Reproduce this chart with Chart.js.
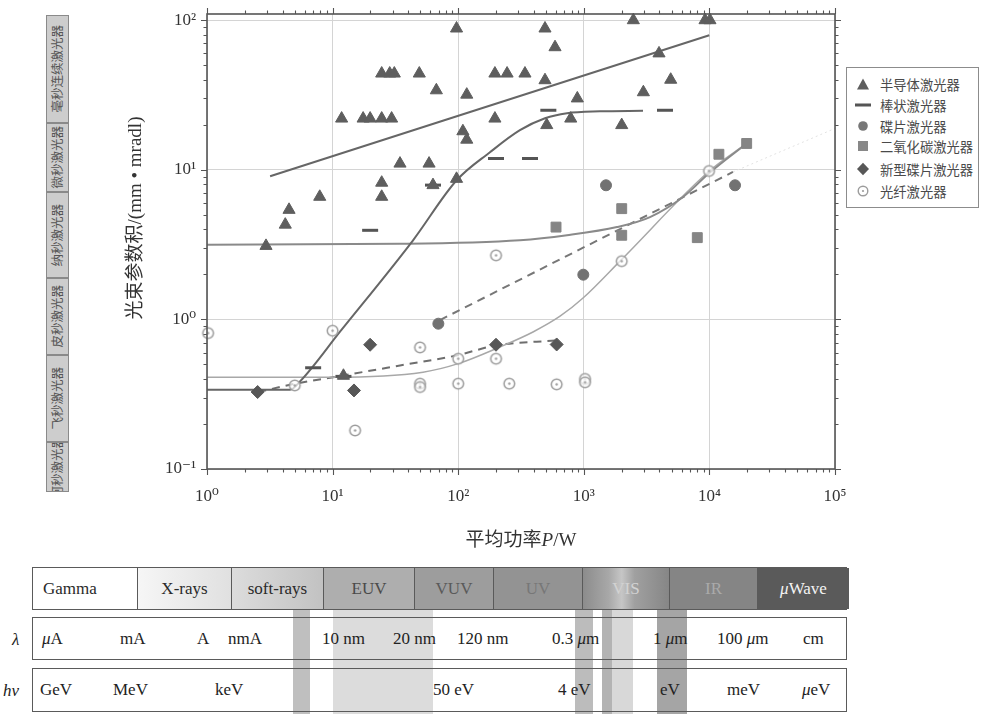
<!DOCTYPE html>
<html><head><meta charset="utf-8">
<script src="https://cdn.jsdelivr.net/npm/chart.js@4.4.1/dist/chart.umd.min.js"></script>
<style>
body{margin:0;background:#fff;width:984px;height:716px;overflow:hidden;position:relative;font-family:'Liberation Serif','Noto Sans CJK SC',serif;}
#wrap{position:absolute;left:0;top:0;width:984px;height:560px;}
.sbox{position:absolute;left:46px;width:21px;background:#cdcdcd;border:1px solid #8a8a8a;overflow:hidden;display:flex;align-items:center;justify-content:center;}
.sbox span{writing-mode:vertical-rl;text-orientation:sideways;transform:rotate(180deg);font-family:'Noto Sans CJK SC',sans-serif;font-size:12.5px;color:#555;white-space:nowrap;line-height:1;}
#legend{position:absolute;left:846px;top:67px;width:131px;height:139px;border:1px solid #8c8c8c;background:#fff;}
.li{position:absolute;left:8px;height:16px;display:flex;align-items:center;font-family:'Noto Sans CJK SC',sans-serif;font-size:13.3px;color:#4a4a4a;white-space:nowrap;}
.li svg{width:16px;height:14px;margin-right:9px;}
.row{position:absolute;left:32px;width:813px;border:1.5px solid #5a5a5a;}
.cell{position:absolute;top:0;height:100%;display:flex;align-items:center;justify-content:center;font-size:17px;border-left:1.5px solid #5a5a5a;box-sizing:border-box;}
.stripe{position:absolute;top:610px;height:104px;}
.t{position:absolute;font-size:17px;color:#222;line-height:1;white-space:nowrap;}
</style></head><body>
<div id="wrap"><canvas id="c" width="984" height="560"></canvas></div>
<div id="side"></div>
<div id="legend"></div>
<div id="band"></div>
<script>
// ---------------- data ----------------
const semiP = [2.95,4.2,4.5,7.9,11.8,17.5,19.9,24.6,29.5,24.6,28.5,31,49,67,97,117,109,117,34.4,58.6,24.6,24.6,97,63,196,196,245,340,491,590,491,888,2980,4920,3970,2480,9230,10100,507,787,2004,12.2];
const semiB = [3.1,4.3,5.4,6.6,22,22,22,22,22,44,44,44,44,34,88,31.8,18.1,15.9,11,11,8.2,6.6,8.7,7.9,22,44,44,44,88,66,39.7,30,33,40,60,100,100,100,19.9,22,19.9,0.42];
const rodP = [7.0,12.2,19.9,63,200,373,522,4430];
const rodB = [0.475,0.416,3.94,7.9,11.9,11.9,25,25];
const discP = [69.5,991,1503,16000];
const discB = [0.936,1.99,7.88,7.88];
const co2P = [601,2004,2004,8010,11900,19800];
const co2B = [4.14,5.5,3.65,3.52,12.7,15];
const newDiscP = [2.53,14.8,19.9,200,608];
const newDiscB = [0.327,0.335,0.677,0.677,0.68];
const fiberP = [1.02,5.0,10,15.1,49.7,49.7,49.7,100,100,200,200,255,608,1023,1023,2004,9930];
const fiberB = [0.81,0.362,0.84,0.181,0.65,0.372,0.353,0.546,0.372,0.546,2.68,0.372,0.368,0.40,0.38,2.45,9.82];

// trend curves
const semiFitP = [3.18,9980];
const semiFitB = [9.05,79.4];
const rodFitP = [1,4.58,5.5,11.5,43.7,97.2,179,310,491,735,1345,2960];
const rodFitB = [0.339,0.339,0.385,0.831,3.38,8.51,13.1,18.4,22.1,23.9,24.6,24.8];
const midFitP = [1,34.4,310,735,1838,3366,6166,9930,19800];
const midFitB = [3.16,3.2,3.38,3.65,4.14,4.83,6.58,9.48,15.0];
const fiberFitP = [1,10,52.5,100,215,394,647,986,2004,9930,19800];
const fiberFitB = [0.411,0.411,0.444,0.506,0.654,0.824,1.05,1.39,2.52,9.77,15.0];
const discFitP = [71.6,15400];
const discFitB = [0.99,9.67];
const discExtP = [15400,100000];
const discExtB = [9.67,18.9];
const newDiscFitP = [2.56,5.0,12.2,34.4,97,200,608];
const newDiscFitB = [0.327,0.371,0.422,0.492,0.574,0.67,0.724];

const xTickValues = [1,10,100,1000,10000,100000];
const xTickLabels = ['10\u2070','10\u00B9','10\u00B2','10\u00B3','10\u2074','10\u2075'];
const yTickValues = [0.1,1,10,100];
const yTickLabels = ['10\u207B\u00B9','10\u2070','10\u00B9','10\u00B2'];

const legendNames = ['半导体激光器','棒状激光器','碟片激光器','二氧化碳激光器','新型碟片激光器','光纤激光器'];
const xTitle = ['平均功率','P','/W'];
const yTitle = '光束参数积/(mm • mradl)';

const sideLabels = ['毫秒连续激光器','微秒激光器','纳秒激光器','皮秒激光器','飞秒激光器','阿秒激光器'];
const bandNames = ['Gamma','X-rays','soft-rays','EUV','VUV','UV','VIS','IR','<i>μ</i>Wave'];
const lambdaLabels = ['<i>μ</i>A','mA','A','nmA','10 nm','20 nm','120 nm','0.3 <i>μ</i>m','1 <i>μ</i>m','100 <i>μ</i>m','cm'];
const energyLabels = ['GeV','MeV','keV','50 eV','4 eV','eV','meV','<i>μ</i>eV'];

// ---------------- chart ----------------
const pts = (xs, ys) => xs.map((x, i) => ({x, y: ys[i]}));
const near = (a, b) => Math.abs(a - b) / b < 1e-6;
const isMajor = v => Math.abs(Math.log10(v) - Math.round(Math.log10(v))) < 1e-9;
function logTicks(lo, hi, max) {
  const t = [];
  for (let e = lo; e <= hi; e++) for (let m = 1; m <= 9; m++) {
    const v = m * Math.pow(10, e);
    if (v <= max * 1.0000001) t.push({value: v});
  }
  return t;
}
function fiberMarker() {
  const c = document.createElement('canvas'); c.width = c.height = 15;
  const g = c.getContext('2d');
  g.beginPath(); g.arc(7.5, 7.5, 5.3, 0, Math.PI * 2);
  g.fillStyle = 'rgba(255,255,255,0.7)'; g.fill();
  g.strokeStyle = '#9c9c9c'; g.lineWidth = 1.5; g.stroke();
  g.beginPath(); g.arc(7.5, 7.5, 1.2, 0, Math.PI * 2); g.fillStyle = '#9c9c9c'; g.fill();
  return c;
}
const fm = fiberMarker();

const line = (xs, ys, color, w, dash, order) => ({
  data: pts(xs, ys), showLine: true, pointRadius: 0, borderColor: color, borderWidth: w,
  borderDash: dash || [], cubicInterpolationMode: 'monotone', order: order || 10, fill: false
});
const scat = (xs, ys, style, r, bg, bc, bw) => ({
  data: pts(xs, ys), pointStyle: style, pointRadius: r, backgroundColor: bg, borderColor: bc,
  borderWidth: bw, showLine: false, order: 1, clip: false
});

const framePlugin = {
  id: 'frame',
  afterDraw(chart) {
    const {ctx, chartArea: a, scales: {x, y}} = chart;
    ctx.save();
    ctx.strokeStyle = '#555'; ctx.lineWidth = 1.6;
    ctx.strokeRect(a.left, a.top, a.right - a.left, a.bottom - a.top);
    ctx.lineWidth = 1.1; ctx.beginPath();
    x.ticks.forEach(t => {
      const p = Math.round(x.getPixelForValue(t.value)) + 0.5, L = isMajor(t.value) ? 6 : 3.5;
      ctx.moveTo(p, a.bottom); ctx.lineTo(p, a.bottom + L);
      ctx.moveTo(p, a.top); ctx.lineTo(p, a.top - L);
    });
    y.ticks.forEach(t => {
      const p = Math.round(y.getPixelForValue(t.value)) + 0.5, L = isMajor(t.value) ? 6 : 3.5;
      ctx.moveTo(a.left, p); ctx.lineTo(a.left - L, p);
      ctx.moveTo(a.right, p); ctx.lineTo(a.right + L, p);
    });
    ctx.stroke();
    // axis titles
    ctx.fillStyle = '#333'; ctx.textBaseline = 'middle';
    ctx.font = "19px 'Liberation Serif','Noto Sans CJK SC'";
    const w0 = ctx.measureText(xTitle[0]).width;
    ctx.font = "italic 19px 'Liberation Serif'";
    const w1 = ctx.measureText(xTitle[1]).width;
    ctx.font = "19px 'Liberation Serif'";
    const w2 = ctx.measureText(xTitle[2]).width;
    let sx = (a.left + a.right) / 2 - (w0 + w1 + w2) / 2, sy = 541;
    ctx.textAlign = 'left';
    ctx.font = "19px 'Liberation Serif','Noto Sans CJK SC'"; ctx.fillText(xTitle[0], sx, sy); sx += w0;
    ctx.font = "italic 19px 'Liberation Serif'"; ctx.fillText(xTitle[1], sx, sy); sx += w1;
    ctx.font = "19px 'Liberation Serif'"; ctx.fillText(xTitle[2], sx, sy);
    ctx.translate(136, 218); ctx.rotate(-Math.PI / 2);
    ctx.textAlign = 'center';
    ctx.font = "19px 'Liberation Serif','Noto Sans CJK SC'";
    ctx.fillText(yTitle, 0, 0);
    ctx.restore();
  }
};

const tickFont = {family: "'Liberation Serif','DejaVu Serif',serif", size: 17};
new Chart(document.getElementById('c'), {
  type: 'scatter',
  data: {datasets: [
    line(semiFitP, semiFitB, '#666', 2),
    line(rodFitP, rodFitB, '#666', 2),
    line(midFitP, midFitB, '#8a8a8a', 2),
    line(fiberFitP, fiberFitB, '#a8a8a8', 1.5),
    line(discFitP, discFitB, '#777', 2, [8, 6]),
    line(discExtP, discExtB, '#e2e2e2', 1, [2, 3]),
    line(newDiscFitP, newDiscFitB, '#6e6e6e', 2, [8, 6]),
    scat(semiP, semiB, 'triangle', 7, '#5e5e5e', '#5e5e5e', 1),
    scat(rodP, rodB, 'line', 8, '#555', '#555', 3),
    scat(discP, discB, 'circle', 5.5, '#727272', '#727272', 1),
    scat(co2P, co2B, 'rect', 7, '#858585', '#858585', 1),
    scat(newDiscP, newDiscB, 'rectRot', 6.5, '#575757', '#575757', 1),
    scat(fiberP, fiberB, fm, 6, '#9c9c9c', '#9c9c9c', 1)
  ]},
  options: {
    responsive: false, animation: false, devicePixelRatio: 1,
    layout: {padding: {left: 120, right: 149, top: 14, bottom: 5}},
    plugins: {legend: {display: false}, tooltip: {enabled: false}},
    scales: {
      x: {
        type: 'logarithmic', min: 1, max: 100000,
        afterBuildTicks: s => { s.ticks = logTicks(0, 5, 100000); },
        afterFit: s => { s.height = 86; s.paddingLeft = 0; s.paddingRight = 0; },
        grid: {color: c => (c.tick && isMajor(c.tick.value)) ? '#d4d4d4' : 'rgba(0,0,0,0)', drawTicks: false, lineWidth: 1},
        border: {display: false},
        ticks: {autoSkip: false, maxRotation: 0, padding: 17, color: '#333', font: tickFont,
          callback: v => { const i = xTickValues.findIndex(t => near(v, t)); return i >= 0 ? xTickLabels[i] : ''; }},
        title: {display: false}
      },
      y: {
        type: 'logarithmic', min: 0.1, max: 110,
        afterBuildTicks: s => { s.ticks = logTicks(-1, 2, 110); },
        afterFit: s => { s.width = 87; s.paddingTop = 0; s.paddingBottom = 0; },
        grid: {color: c => (c.tick && isMajor(c.tick.value)) ? '#d4d4d4' : 'rgba(0,0,0,0)', drawTicks: false, lineWidth: 1},
        border: {display: false},
        ticks: {autoSkip: false, padding: 11, color: '#333', font: tickFont,
          callback: v => { const i = yTickValues.findIndex(t => near(v, t)); return i >= 0 ? yTickLabels[i] : ''; }},
        title: {display: false}
      }
    }
  },
  plugins: [framePlugin]
});

// ---------------- side column ----------------
const sideEdges = [15,123,192,278,355,442,492];
const side = document.getElementById('side');
sideLabels.forEach((s, i) => {
  const d = document.createElement('div'); d.className = 'sbox';
  d.style.top = sideEdges[i] + 'px'; d.style.height = (sideEdges[i + 1] - sideEdges[i] - 2) + 'px';
  d.innerHTML = '<span>' + s + '</span>'; side.appendChild(d);
});

// ---------------- legend ----------------
const legendSvg = [
  '<polygon points="8,1.5 14,12.5 2,12.5" fill="#5e5e5e"/>',
  '<rect x="0" y="5.5" width="16" height="3" fill="#555"/>',
  '<circle cx="8" cy="7" r="4.8" fill="#777"/>',
  '<rect x="3" y="2" width="10" height="10" fill="#888"/>',
  '<polygon points="8,0.8 14,7 8,13.2 2,7" fill="#575757"/>',
  '<circle cx="8" cy="7" r="4.8" fill="none" stroke="#9c9c9c" stroke-width="1.4"/><circle cx="8" cy="7" r="1.1" fill="#9c9c9c"/>'
];
const legendRows = [8, 29, 50, 70, 93, 115];
const lg = document.getElementById('legend');
legendNames.forEach((n, i) => {
  const d = document.createElement('div'); d.className = 'li'; d.style.top = legendRows[i] + 'px';
  d.innerHTML = '<svg viewBox="0 0 16 14">' + legendSvg[i] + '</svg><span>' + n + '</span>';
  lg.appendChild(d);
});

// ---------------- spectrum band ----------------
const band = document.getElementById('band');
const stripes = [[293,310,'rgba(170,170,170,0.75)'],[333,433,'rgba(205,205,205,0.7)'],[575,593,'rgba(165,165,165,0.75)'],[602,612,'rgba(160,160,160,0.8)'],[612,633,'rgba(200,200,200,0.7)'],[657,687,'rgba(135,135,135,0.75)']];
stripes.forEach(s => {
  const d = document.createElement('div'); d.className = 'stripe';
  d.style.left = s[0] + 'px'; d.style.width = (s[1] - s[0]) + 'px'; d.style.background = s[2];
  band.appendChild(d);
});
const bandEdges = [32,136,230,322,413,492,581,668,756,848];
const bandBg = ['#fff','linear-gradient(to right,#f6f6f6,#e0e0e0)','linear-gradient(to right,#dcdcdc,#c2c2c2)','#aeaeae','#9d9d9d','#939393','linear-gradient(to right,#8c8c8c,#a8a8a8 30%,#c6c6c6 45%,#a0a0a0 60%,#868686)','#858585','#5a5a5a'];
const bandFg = ['#2a2a2a','#2a2a2a','#2a2a2a','#4a4a4a','#5a5a5a','#777','#d2d2d2','#aaa','#f4f4f4'];
const r1 = document.createElement('div'); r1.className = 'row';
r1.style.top = '567px'; r1.style.height = '41px'; r1.style.left = '32px'; r1.style.width = '813px';
bandNames.forEach((n, i) => {
  const c = document.createElement('div'); c.className = 'cell';
  c.style.left = (bandEdges[i] - 32) + 'px'; c.style.width = (bandEdges[i + 1] - bandEdges[i]) + 'px';
  c.style.background = bandBg[i]; c.style.color = bandFg[i];
  if (i === 0) { c.style.borderLeft = 'none'; c.style.justifyContent = 'flex-start'; c.style.paddingLeft = '10px'; }
  c.innerHTML = n; r1.appendChild(c);
});
band.appendChild(r1);
const r2 = document.createElement('div'); r2.className = 'row'; r2.style.top = '617px'; r2.style.height = '41px'; band.appendChild(r2);
const r3 = document.createElement('div'); r3.className = 'row'; r3.style.top = '668px'; r3.style.height = '42px'; band.appendChild(r3);
const lambdaX = [42,120,197,228,322,393,457,552,653,717,803];
const energyX = [40,113,215,433,558,660,727,802];
lambdaLabels.forEach((s, i) => {
  const d = document.createElement('div'); d.className = 't'; d.style.left = lambdaX[i] + 'px'; d.style.top = '630px';
  d.innerHTML = s; band.appendChild(d);
});
energyLabels.forEach((s, i) => {
  const d = document.createElement('div'); d.className = 't'; d.style.left = energyX[i] + 'px'; d.style.top = '681px';
  d.innerHTML = s; band.appendChild(d);
});
const lam = document.createElement('div'); lam.className = 't'; lam.style.left = '12px'; lam.style.top = '631px';
lam.innerHTML = '<i>λ</i>'; band.appendChild(lam);
const hv = document.createElement('div'); hv.className = 't'; hv.style.left = '3px'; hv.style.top = '682px';
hv.innerHTML = '<i>hν</i>'; band.appendChild(hv);
</script>
</body></html>
